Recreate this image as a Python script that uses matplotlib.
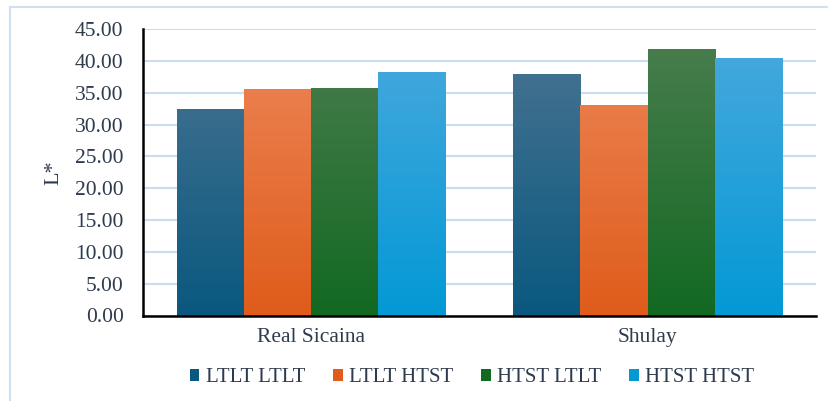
import matplotlib.pyplot as plt, numpy as np
from matplotlib.colors import LinearSegmentedColormap
from matplotlib.patches import Rectangle

# data
categories = ['Real Sicaina', 'Shulay']
series = ['LTLT LTLT', 'LTLT HTST', 'HTST LTLT', 'HTST HTST']
ltlt_ltlt = [32.5, 38.0]
ltlt_htst = [35.6, 33.1]
htst_ltlt = [35.8, 41.8]
htst_htst = [38.3, 40.5]
values = [ltlt_ltlt, ltlt_htst, htst_ltlt, htst_htst]

# (top colour, bottom colour) of each gradient fill
top_colors = ['#4b7592', '#ed8759', '#4b7e50', '#4aa9de']
bottom_colors = ['#0a587f', '#df5c1b', '#126922', '#0399d5']

text_color = '#2e3b4e'
plt.rcParams['font.family'] = ['Liberation Serif', 'DejaVu Serif']

fig = plt.figure(figsize=(8.29, 4.01), dpi=100)
# light outer frame of the chart box
fig.patches.append(Rectangle((10 / 829, -0.1), 1.2, 1 - 7 / 401 + 0.1,
                             transform=fig.transFigure, fill=False,
                             edgecolor='#cfe0f2', linewidth=1.5))
ax = fig.add_axes([143 / 829, 1 - 315.5 / 401, (815.7 - 143) / 829, (315.5 - 29) / 401])

x = np.arange(len(categories))
bar_width = 0.2
ymax = 45

for i, name in enumerate(series):
    cmap = LinearSegmentedColormap.from_list(name, [bottom_colors[i], top_colors[i]])
    bars = ax.bar(x + (i - 1.5) * bar_width, values[i], width=bar_width,
                  color=bottom_colors[i], label=name, zorder=2,
                  edgecolor='none')
    # gradient fill clipped to each bar
    for b in bars:
        x0, w, h = b.get_x(), b.get_width(), b.get_height()
        grad = np.linspace(0, h / ymax, 256).reshape(-1, 1)
        im = ax.imshow(grad, cmap=cmap, vmin=0, vmax=1, origin='lower',
                       extent=(x0, x0 + w, 0, h), aspect='auto', zorder=2.5)
        im.set_clip_path(b)

ax.set_xlim(-0.5, 1.5)
ax.set_ylim(0, ymax)
ax.set_yticks(np.arange(0, 46, 5))
ax.set_yticklabels(['%.2f' % v for v in np.arange(0, 46, 5)])
ax.set_xticks(x)
ax.set_xticklabels(categories)
ax.tick_params(axis='both', length=0, colors=text_color)
ax.tick_params(axis='y', pad=14, labelsize=15.5)
ax.tick_params(axis='x', pad=9, labelsize=15.5)
ax.set_ylabel('L*', fontsize=16, color=text_color, labelpad=8)

ax.grid(True, axis='y', color='#c9dcf0', linewidth=1.5, zorder=0)
ax.set_axisbelow(True)
for s in ['top', 'right']:
    ax.spines[s].set_visible(False)
for s in ['left', 'bottom']:
    ax.spines[s].set_color('black')
    ax.spines[s].set_linewidth(1.8)
    ax.spines[s].set_zorder(3)

leg = fig.legend(loc='center', bbox_to_anchor=(472 / 829, 1 - 378 / 401), ncol=4,
                 frameon=False, fontsize=15, handlelength=0.45, handleheight=0.45,
                 handletextpad=0.3, columnspacing=1.35, labelcolor=text_color)

fig.savefig('out.png', dpi=100)
